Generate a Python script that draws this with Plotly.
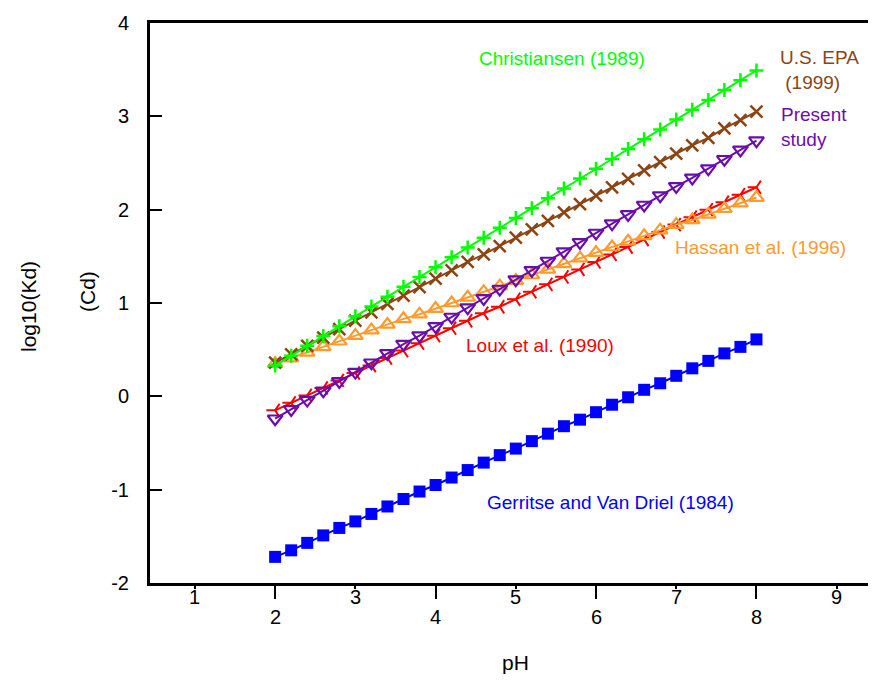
import plotly.graph_objects as go

ph = [2.0, 2.2, 2.4, 2.6, 2.8, 3.0, 3.2, 3.4, 3.6, 3.8, 4.0, 4.2, 4.4, 4.6, 4.8, 5.0,
      5.2, 5.4, 5.6, 5.8, 6.0, 6.2, 6.4, 6.6, 6.8, 7.0, 7.2, 7.4, 7.6, 7.8, 8.0]

christiansen = [0.33, 0.435, 0.541, 0.646, 0.752, 0.857, 0.962, 1.068, 1.173, 1.279, 1.384,
                1.489, 1.595, 1.700, 1.806, 1.911, 2.016, 2.122, 2.227, 2.333, 2.438,
                2.543, 2.649, 2.754, 2.860, 2.965, 3.070, 3.176, 3.281, 3.387, 3.492]
us_epa = [0.36, 0.45, 0.54, 0.63, 0.72, 0.81, 0.90, 0.99, 1.08, 1.17, 1.26, 1.35, 1.44, 1.52,
          1.61, 1.70, 1.79, 1.88, 1.97, 2.06, 2.15, 2.24, 2.33, 2.42, 2.51, 2.60, 2.69, 2.77,
          2.87, 2.96, 3.05]
present = [-0.24, -0.14, -0.04, 0.06, 0.16, 0.26, 0.36, 0.46, 0.56, 0.65, 0.75, 0.85, 0.95,
           1.05, 1.15, 1.25, 1.35, 1.45, 1.55, 1.65, 1.75, 1.85, 1.95, 2.05, 2.15, 2.25, 2.34,
           2.44, 2.54, 2.64, 2.74]
hassan = [0.35, 0.41, 0.47, 0.53, 0.59, 0.65, 0.71, 0.77, 0.83, 0.88, 0.94, 1.00, 1.06, 1.12,
          1.18, 1.24, 1.30, 1.36, 1.42, 1.48, 1.54, 1.60, 1.66, 1.72, 1.78, 1.84, 1.89, 1.95,
          2.01, 2.07, 2.13]
loux = [-0.15, -0.07, 0.01, 0.09, 0.17, 0.25, 0.33, 0.41, 0.49, 0.57, 0.65, 0.73, 0.81, 0.89,
        0.96, 1.04, 1.12, 1.20, 1.28, 1.36, 1.44, 1.52, 1.60, 1.68, 1.76, 1.84, 1.92, 2.00,
        2.08, 2.16, 2.24]
gerritse = [-1.72, -1.65, -1.57, -1.49, -1.41, -1.34, -1.26, -1.18, -1.10, -1.02, -0.95, -0.87,
            -0.79, -0.71, -0.63, -0.56, -0.48, -0.40, -0.32, -0.25, -0.17, -0.09, -0.01, 0.07,
            0.14, 0.22, 0.30, 0.38, 0.46, 0.53, 0.61]

x_tick_values = [1, 2, 3, 4, 5, 6, 7, 8, 9]
x_tick_labels = ["1", "2", "3", "4", "5", "6", "7", "8", "9"]
y_tick_values = [-2, -1, 0, 1, 2, 3, 4]
y_tick_labels = ["-2", "-1", "0", "1", "2", "3", "4"]

FONT = "Liberation Sans, Arial, sans-serif"

series = [
    ("Gerritse and Van Driel (1984)", gerritse, "#0000FF", "square", 12, 0),
    ("Loux et al. (1990)", loux, "#FF0000", "y-left-open", 11, 2),
    ("Hassan et al. (1996)", hassan, "#FF9A2E", "triangle-up-open", 13, 2.2),
    ("Present study", present, "#6A0DAD", "triangle-down-open", 13, 2.2),
    ("U.S. EPA (1999)", us_epa, "#8B4513", "x-thin-open", 12, 2.5),
    ("Christiansen (1989)", christiansen, "#00FF00", "cross-thin-open", 10, 2.5),
]

fig = go.Figure()
for name, ys, color, sym, size, lw in series:
    fig.add_trace(go.Scatter(
        x=ph, y=ys, mode="lines+markers", name=name,
        line=dict(color=color, width=2),
        marker=dict(symbol=sym, size=size, color=color,
                    line=dict(color=color, width=lw)),
        showlegend=False,
    ))

# page has an 8px body margin, so the figure is 868x680 placed at (8, 8)
fig.update_layout(
    width=868, height=680,
    margin=dict(l=142, r=0, t=15, b=105),
    plot_bgcolor="white", paper_bgcolor="white",
    font=dict(family=FONT, size=19, color="black"),
)
fig.update_xaxes(
    range=[0.44, 9.49], showgrid=False, zeroline=False,
    showline=True, linecolor="black", linewidth=3, mirror=True,
    tickmode="array", tickvals=[2, 4, 6, 8], ticks="outside", ticklen=13,
    tickwidth=2, tickcolor="black", showticklabels=False,
    minor=dict(tickvals=[1, 3, 5, 7, 9], ticks="outside", ticklen=3,
               tickwidth=1.5, tickcolor="black"),
)
fig.update_yaxes(
    range=[-2, 4], showgrid=False, zeroline=False,
    showline=True, linecolor="black", linewidth=3,
    tickmode="array", tickvals=y_tick_values, ticktext=y_tick_labels,
    ticks="inside", ticklen=12, tickwidth=2, tickcolor="black",
    ticklabelstandoff=14, tickfont=dict(family=FONT, size=20),
)


def px2paper(px, py):
    return (px - 150) / 726, (583 - py) / 560


annotations = []
for v, t in zip(x_tick_values, x_tick_labels):
    shift = -34 if v % 2 == 0 else -14
    annotations.append(dict(x=v, y=0, xref="x", yref="paper", text=t, showarrow=False,
                            yanchor="middle", yshift=shift,
                            font=dict(family=FONT, size=20, color="black")))

labels = [
    ("Christiansen (1989)", 562, 58, "#00FF00", "center"),
    ("U.S. EPA<br> (1999)", 778, 70, "#8B4513", "left"),
    ("Present<br>study", 779, 127, "#6A0DAD", "left"),
    ("Hassan et al. (1996)", 760, 247, "#FF9A2E", "center"),
    ("Loux et al. (1990)", 540, 345, "#FF0000", "center"),
    ("Gerritse and Van Driel (1984)", 610, 502, "#0000FF", "center"),
]
for text, px, py, color, align in labels:
    ax, ay = px2paper(px, py)
    annotations.append(dict(x=ax, y=ay, xref="paper", yref="paper",
                            text=text, showarrow=False, align=align,
                            xanchor="left" if align == "left" else "center",
                            yanchor="middle",
                            font=dict(family=FONT, size=19, color=color)))

for text, px, py, angle in [("log10(Kd)", 28, 307, -90), ("(Cd)", 87, 292, -90),
                            ("pH", 515, 662, 0)]:
    ax, ay = px2paper(px, py)
    annotations.append(dict(x=ax, y=ay, xref="paper", yref="paper", text=text,
                            textangle=angle, showarrow=False,
                            xanchor="center", yanchor="middle",
                            font=dict(family=FONT, size=21, color="black")))

fig.update_layout(annotations=annotations)

fig.write_html("out.html")
